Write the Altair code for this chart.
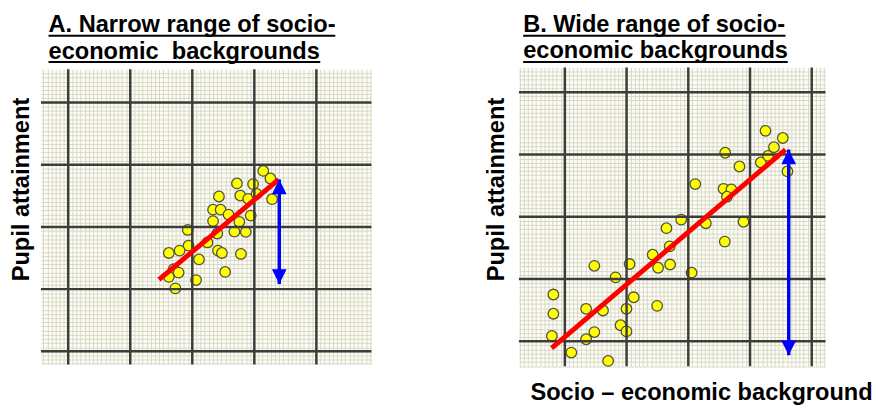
import altair as alt
import pandas as pd
import numpy as np

# ---------------- data ----------------
# Panel A: narrow range of socio-economic backgrounds
a_x = [31.44, 32.59, 27.20, 29.80, 24.30, 27.74, 29.01, 30.37, 32.86, 23.35, 24.57,
       25.84, 29.42, 23.35, 27.58, 26.79, 28.63, 24.03, 19.28, 22.45, 19.39, 24.14,
       24.78, 27.84, 16.22, 17.96, 21.08, 17.01, 17.80, 25.30, 16.22, 20.61, 17.28]
a_y = [29.00, 27.78, 26.99, 26.88, 24.89, 25.04, 24.51, 25.30, 24.46, 22.77, 22.77,
       21.98, 21.82, 20.93, 20.82, 19.24, 19.19, 18.93, 19.51, 17.50, 16.98, 16.19,
       15.81, 15.65, 15.81, 16.19, 14.77, 13.19, 12.65, 12.76, 11.97, 11.45, 10.12]
a_line_x = [14.63, 33.92]
a_line_y = [11.54, 27.62]
a_arrow_x = 34.02
a_arrow_y = [10.81, 27.62]

# Panel B: wide range of socio-economic backgrounds
b_x = [16.46, 16.99, 14.23, 15.11, 17.05, 4.78, 10.49, 8.22, -1.86, 11.16, 3.44,
       6.18, 9.98, 14.95, -1.86, 9.02, 9.98, 4.78, 3.44, -2.10, 1.05, 7.01,
       18.85, 22.84, 20.53, 25.91, 28.94, 21.13, 25.71, 26.98, 26.26, 28.29, 25.98,
       31.76, 32.92, 33.88, 32.51, 35.31, 36.06]
b_y = [18.16, 15.24, 13.90, 11.80, 12.32, 12.11, 12.40, 10.26, 7.50, 7.06, 5.21,
       4.94, 5.21, 5.68, 4.42, 2.57, 1.58, 1.47, 0.32, 0.84, -1.82, -3.16,
       19.53, 18.95, 11.01, 16.00, 19.19, 25.24, 24.48, 24.37, 23.21, 28.06, 30.27,
       28.71, 29.77, 31.16, 33.79, 32.64, 27.27]
b_line_x = [-2.14, 35.75]
b_line_y = [-1.11, 30.79]
b_arrow_x = 36.27
b_arrow_y = [-2.26, 30.79]

major_ticks = [0, 10, 20, 30, 40]
minor_per_major = 15

a_xdom = [-4.39, 48.87]
a_ydom = [-2.10, 45.33]
b_xdom = [-7.44, 42.23]
b_ydom = [-4.00, 43.95]

a_title = ["A. Narrow range of socio-", "economic\u00a0 backgrounds"]
b_title = ["B. Wide range of socio-", "economic backgrounds"]
y_title = "Pupil attainment"
x_title = "Socio \u2013 economic background"

# ---------------- style ----------------
FONT = "Liberation Sans"
PAPER = "#FEFEF0"
MINOR = "#D6D6CE"
MAJOR = "#3C3C3C"
UP = "M0,-1L-1,1L1,1Z"
DOWN = "M0,1L-1,-1L1,-1Z"


def minor_vals(dom):
    step = 10 / minor_per_major
    k0 = int(np.ceil(dom[0] / step))
    k1 = int(np.floor(dom[1] / step))
    return [round(k * step, 4) for k in range(k0, k1 + 1)]


def text_layer(txt, x, y, **kw):
    return alt.Chart(pd.DataFrame({"t": [txt]})).mark_text(
        font=FONT, fontSize=24, fontWeight="bold", color="black", **kw
    ).encode(text="t:N", x=alt.value(x), y=alt.value(y))


def underline(x1, x2, y):
    return alt.Chart(pd.DataFrame({"u": [0]})).mark_rule(
        color="black", strokeWidth=2
    ).encode(x=alt.value(x1), x2=alt.value(x2), y=alt.value(y))


def panel(px, py, lx, ly, ax, ay, xdom, ydom, w, h, titles, tpos, ypos, xt=None):
    xs = alt.Scale(domain=xdom, nice=False, zero=False)
    ys = alt.Scale(domain=ydom, nice=False, zero=False)
    gx = alt.Axis(values=minor_vals(xdom), grid=True, gridColor=MINOR, gridWidth=1,
                  gridOpacity=1, labels=False, ticks=False, domain=False, title=None,
                  orient="bottom")
    gy = alt.Axis(values=minor_vals(ydom), grid=True, gridColor=MINOR, gridWidth=1,
                  gridOpacity=1, labels=False, ticks=False, domain=False, title=None,
                  orient="left")

    def X(f):
        return alt.X(f, type="quantitative", scale=xs, axis=gx)

    def Y(f):
        return alt.Y(f, type="quantitative", scale=ys, axis=gy)

    pts = alt.Chart(pd.DataFrame({"x": px, "y": py})).mark_circle(
        size=115, color="#FFFF00", opacity=1, stroke="#50503C", strokeWidth=1.3
    ).encode(x=X("x"), y=Y("y"))

    majors = pd.DataFrame({"x": major_ticks, "y": major_ticks})
    vmaj = alt.Chart(majors).mark_rule(color=MAJOR, strokeWidth=2.5).encode(x=X("x"))
    hmaj = alt.Chart(majors).mark_rule(color=MAJOR, strokeWidth=2.5).encode(y=Y("y"))

    line = alt.Chart(pd.DataFrame({"x": lx, "y": ly})).mark_line(
        color="#FF0000", strokeWidth=5, strokeCap="butt"
    ).encode(x=X("x"), y=Y("y"))

    adf = pd.DataFrame({"x": [ax], "y": [ay[0]], "y2": [ay[1]]})
    shaft = alt.Chart(adf).mark_rule(color="#0000FF", strokeWidth=3.5).encode(
        x=X("x"), y=Y("y"), y2="y2:Q")
    head_up = alt.Chart(pd.DataFrame({"x": [ax], "y": [ay[1]]})).mark_point(
        shape=UP, size=225, filled=True, color="#0000FF", opacity=1, strokeWidth=0, yOffset=7.5
    ).encode(x=X("x"), y=Y("y"))
    head_dn = alt.Chart(pd.DataFrame({"x": [ax], "y": [ay[0]]})).mark_point(
        shape=DOWN, size=225, filled=True, color="#0000FF", opacity=1, strokeWidth=0, yOffset=-7.5
    ).encode(x=X("x"), y=Y("y"))

    layers = [pts, vmaj, hmaj, line, shaft, head_up, head_dn,
              text_layer(titles[0], tpos[0], tpos[1], align="left", baseline="alphabetic"),
              text_layer(titles[1], tpos[0], tpos[2], align="left", baseline="alphabetic"),
              underline(tpos[0], tpos[3], tpos[4]),
              underline(tpos[0], tpos[5], tpos[6]),
              text_layer(y_title, ypos[0], ypos[1], align="center", baseline="middle", angle=270)]
    if xt is not None:
        layers.append(text_layer(x_title, xt[0], xt[1], align="left", baseline="alphabetic"))
    return alt.layer(*layers).properties(width=w, height=h)


panel_a = panel(a_x, a_y, a_line_x, a_line_y, a_arrow_x, a_arrow_y, a_xdom, a_ydom, 336, 300,
                a_title, [7.7, -37.5, -10.8, 299.3, -34.2, 284, -7.5], [-19.5, 122.2])
panel_b = panel(b_x, b_y, b_line_x, b_line_y, b_arrow_x, b_arrow_y, b_xdom, b_ydom, 311.7, 303.6,
                b_title, [4.3, -36.4, -9.7, 271, -32.4, 273.3, -5.7], [-22.5, 124],
                xt=[11.7, 337.6])

chart = alt.hconcat(panel_a, panel_b, spacing=150, bounds="flush", center=True).properties(
    padding={"left": 1.5, "top": 1, "right": 0, "bottom": 0}
).configure_view(fill=PAPER, stroke=None)

chart.save("out.html", embed_options={"renderer": "svg", "actions": False})
